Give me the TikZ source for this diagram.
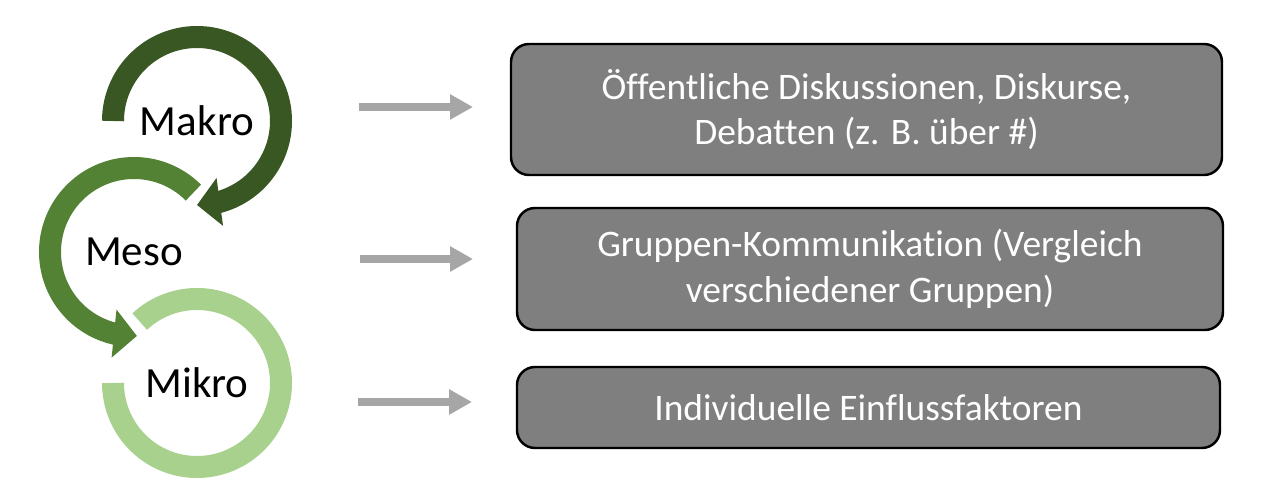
\documentclass[tikz,border=0pt]{standalone}
\usepackage{fontspec}
\setmainfont[Ligatures=NoCommon]{Carlito}
\usepackage{tikz}
\usetikzlibrary{arrows.meta, bending, calc, positioning}
\definecolor{makrogreen}{RGB}{56,87,35}
\definecolor{mesogreen}{RGB}{84,130,53}
\definecolor{mikrogreen}{RGB}{169,209,142}
\definecolor{boxgray}{RGB}{127,127,127}
\definecolor{arrowgray}{RGB}{166,166,166}
\tikzset{
  ring/.style={line width=0.44cm, line cap=butt},
  ringhead/.style={-{Triangle[length=0.46cm, width=0.94cm]}},
  lvl/.style={font=\fontsize{24.5}{29}\selectfont, inner sep=0pt},
  infobox/.style={rectangle, draw=black, fill=boxgray, text=white,
    rounded corners=0.36cm, line width=1.4pt, align=center, inner sep=0pt,
    font=\fontsize{21.3}{26}\selectfont},
  grayarrow/.style={-{Triangle[length=0.46cm, width=0.48cm]}, line width=0.16cm, color=arrowgray}
}
\begin{document}
\begin{tikzpicture}
  \useasboundingbox (0,0) rectangle (25.42,10.02);

  \node[lvl] (makro) at (3.94,7.6) {Makro};
  \node[lvl] (meso) at (2.68,4.98) {Meso};
  \node[lvl] (mikro) at (3.94,2.36) {Mikro};

  % Ringe
  \draw[ring, mikrogreen] ($(mikro)+(133:1.68)$) arc[start angle=133, end angle=-180, radius=1.68cm];
  \draw[ring, ringhead, mesogreen] ($(meso)+(45:1.68)$) arc[start angle=45, end angle=272, radius=1.68cm];
  \draw[ring, ringhead, makrogreen] ($(makro)+(180:1.68)$) arc[start angle=180, end angle=-90, radius=1.68cm];

  % Boxen
  \node[infobox, minimum width=14.22cm, minimum height=2.62cm] (oeff) at (17.33,7.83)
    {Öffentliche Diskussionen, Diskurse,\\Debatten (z. B. über \#)};
  \node[infobox, minimum width=14.12cm, minimum height=2.44cm] (gruppe) at (17.40,4.64)
    {Gruppen-Kommunikation (Vergleich\\verschiedener Gruppen)};
  \node[infobox, minimum width=14.06cm, minimum height=1.62cm] (indiv) at (17.37,1.87)
    {Individuelle Einflussfaktoren};

  % Pfeile
  \coordinate (a1) at (7.18,7.88);
  \coordinate (b1) at (9.46,7.88);
  \coordinate (a2) at (7.20,4.84);
  \coordinate (b2) at (9.46,4.84);
  \coordinate (a3) at (7.16,1.98);
  \coordinate (b3) at (9.44,1.98);
  \draw[grayarrow] (a1) -- (b1);
  \draw[grayarrow] (a2) -- (b2);
  \draw[grayarrow] (a3) -- (b3);
\end{tikzpicture}
\end{document}
